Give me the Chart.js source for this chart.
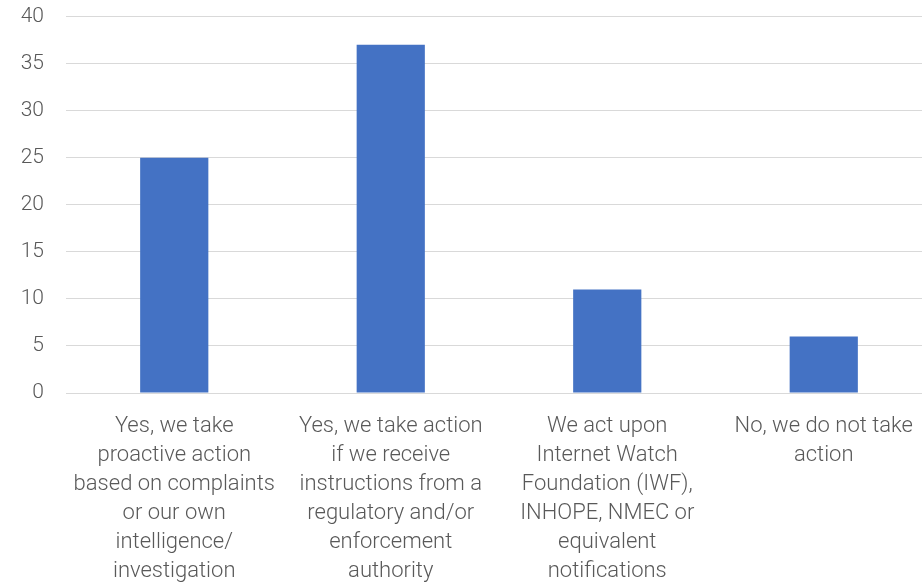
<!DOCTYPE html>
<html><head><meta charset="utf-8">
<script src="https://cdn.jsdelivr.net/npm/chart.js@4/dist/chart.umd.min.js"></script>
<style>html,body{margin:0;padding:0;overflow:hidden;background:#fff}#wrap{width:932px;height:600px;position:absolute;left:0;top:-18px}</style>
</head><body><div id="wrap"><canvas id="c" width="932" height="600"></canvas></div>
<script>
const categories = [
  ["Yes, we take","proactive action","based on complaints","or our own","intelligence/","investigation"],
  ["Yes, we take action","if we receive","instructions from a","regulatory and/or","enforcement","authority"],
  ["We act upon","Internet Watch","Foundation (IWF),","INHOPE, NMEC or","equivalent","notifications"],
  ["No, we do not take","action"]
];
const values = [25, 37, 11, 6];
const yTicks = [0, 5, 10, 15, 20, 25, 30, 35, 40];

new Chart(document.getElementById('c'), {
  type: 'bar',
  data: { labels: categories, datasets: [{ data: values, backgroundColor: '#4472C4', barPercentage: 0.315, categoryPercentage: 1 }] },
  options: {
    responsive: false, animation: false,
    layout: { padding: { top: 1, right: 0, left: 0, bottom: 0 } },
    plugins: { legend: { display: false }, tooltip: { enabled: false } },
    scales: {
      x: {
        grid: { display: false, drawTicks: false },
        border: { color: '#d9d9d9', width: 1 },
        ticks: { color: '#595959', font: { family: 'Roboto', size: 22, weight: '300', lineHeight: 1.318 }, maxRotation: 0, minRotation: 0, autoSkip: false, padding: 19 },
        afterFit: s => { s.height = 189; }
      },
      y: {
        min: 0, max: 40,
        afterBuildTicks: s => { s.ticks = yTicks.map(v => ({ value: v })); },
        grid: { color: '#d9d9d9', drawTicks: false },
        border: { display: false },
        ticks: { color: '#595959', font: { family: 'Roboto', size: 21, weight: '300' }, padding: 22 },
        afterFit: s => { s.width = 66; }
      }
    }
  }
});
</script></body></html>
